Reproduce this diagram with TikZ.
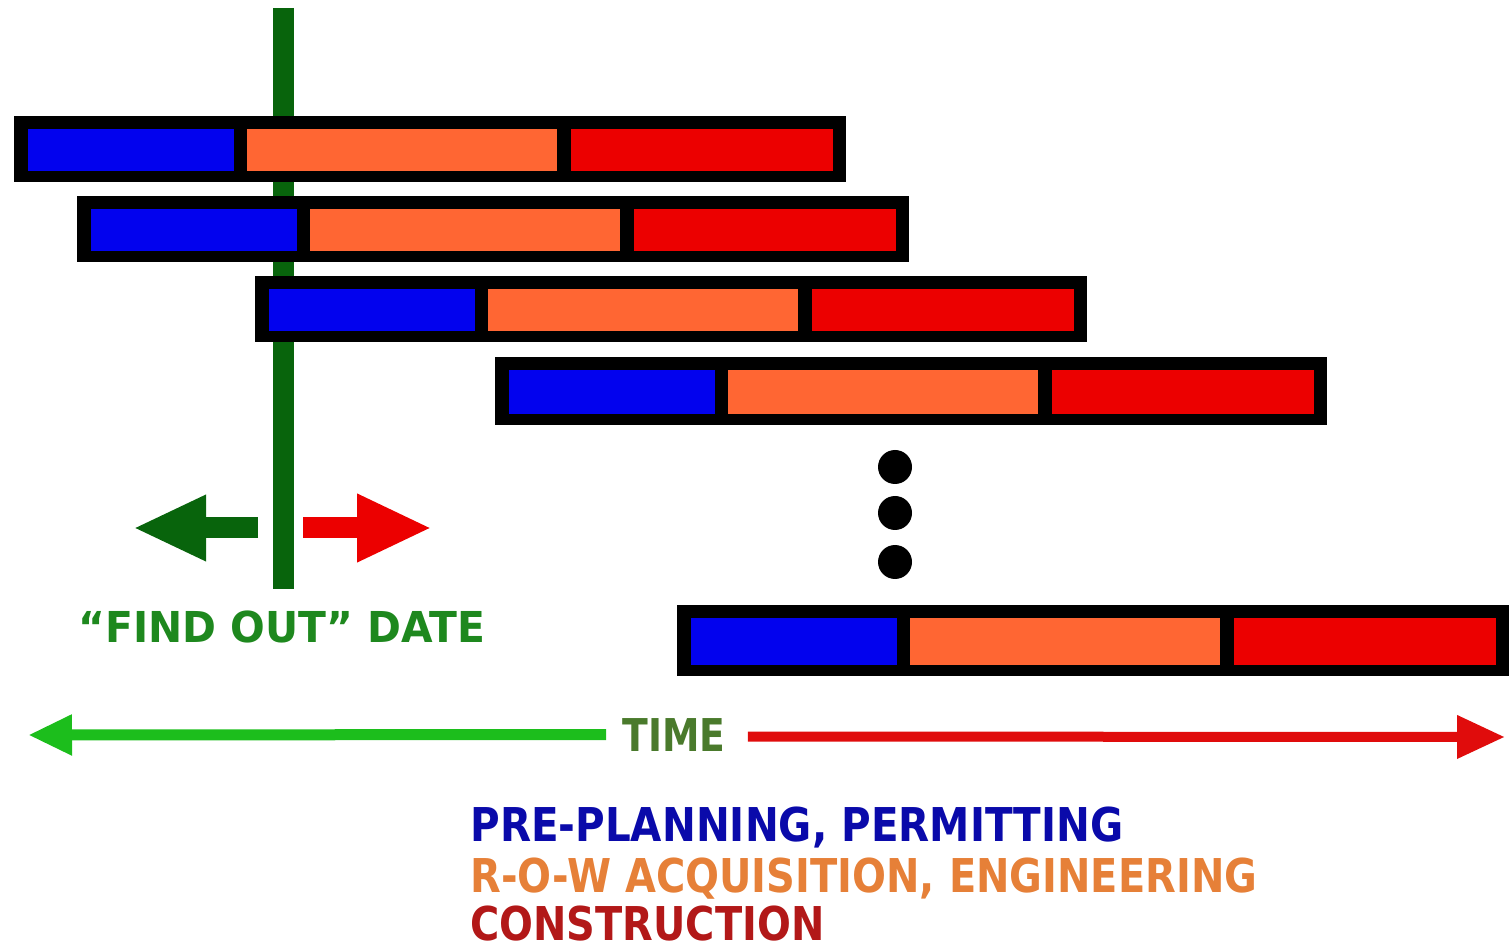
\documentclass[tikz,border=0pt]{standalone}
\usepackage{fontspec}
\usepackage{graphicx}
\usetikzlibrary{arrows.meta}
\newfontfamily\gantfont{DejaVu Sans}
\definecolor{planblue}{RGB}{2,2,238}
\definecolor{rowor}{RGB}{255,102,51}
\definecolor{buildred}{RGB}{236,0,0}
\definecolor{findgreen}{RGB}{8,100,12}
\definecolor{findtext}{RGB}{30,136,30}
\definecolor{timegreen}{RGB}{28,190,28}
\definecolor{timered}{RGB}{224,12,12}
\definecolor{timetext}{RGB}{74,122,44}
\definecolor{lgblue}{RGB}{10,10,170}
\definecolor{lgorange}{RGB}{230,128,56}
\definecolor{lgred}{RGB}{178,24,24}
\newcommand{\squeeze}[2]{\resizebox{#1}{\height}{#2}}
\tikzset{
  label/.style={inner sep=0pt, anchor=base west, font=\gantfont\bfseries},
  fatarrow/.style={line width=10.5pt},
  timeline/.style={line width=5.5pt}
}
\begin{document}
\begin{tikzpicture}[x=0.5pt,y=-0.5pt]
        \useasboundingbox (0,0) rectangle (1509,951);
        \coordinate (ftop) at (283,8);
        \coordinate (fbot) at (283,589);
        \draw[findgreen, fatarrow] (ftop) -- (fbot);
        \foreach \bx/\by/\bh in {14/116/66, 77/196/66, 255/276/66, 495/357/68, 677/605/71}{
          \fill[black] (\bx,\by) rectangle ++(832,\bh);
          \fill[planblue] (\bx+14,\by+13) rectangle (\bx+220,\by+\bh-11);
          \fill[rowor] (\bx+233,\by+13) rectangle (\bx+543,\by+\bh-11);
          \fill[buildred] (\bx+557,\by+13) rectangle (\bx+819,\by+\bh-11);
        }
        \foreach \dy in {467,513,562}
          \fill[black] (895,\dy) circle [radius=8.5pt];
        \coordinate (gstart) at (258,528);
        \coordinate (gtip) at (133,528);
        \coordinate (rstart) at (303,528);
        \coordinate (rtip) at (432,528);
        \draw[findgreen, fatarrow, -{Triangle[length=36.5pt,width=30.5pt]}] (gstart) -- (gtip);
        \draw[buildred, fatarrow, -{Triangle[length=37.5pt,width=31.5pt]}] (rstart) -- (rtip);
        \node[label, text=findtext] (finddate) at (78,642)
          {\fontsize{21.3}{24}\selectfont\squeeze{203.5pt}{“FIND OUT” DATE}};
        \node[label, text=timetext] (time) at (622,751)
          {\fontsize{22.6}{26}\selectfont\squeeze{51.5pt}{TIME}};
        \coordinate (tleft) at (28,735);
        \coordinate (tright) at (1505,737);
        \draw[timegreen, timeline, -{Triangle[length=22pt,width=19pt]}] ([xshift=-8pt]time.west) -- (tleft);
        \draw[timered, line width=5pt, -{Triangle[length=24pt,width=20.5pt]}] ([xshift=11pt,yshift=-1pt]time.east) -- (tright);
        \node[label, text=lgblue] (lgplan) at (470,841)
          {\fontsize{23.3}{26}\selectfont\squeeze{326.5pt}{PRE-PLANNING, PERMITTING}};
        \node[label, text=lgorange] (lgrow) at (470,892)
          {\fontsize{23.3}{26}\selectfont\squeeze{393.5pt}{R-O-W ACQUISITION, ENGINEERING}};
        \node[label, text=lgred] (lgbuild) at (470,940)
          {\fontsize{23.3}{26}\selectfont\squeeze{177pt}{CONSTRUCTION}};
\end{tikzpicture}
\end{document}
